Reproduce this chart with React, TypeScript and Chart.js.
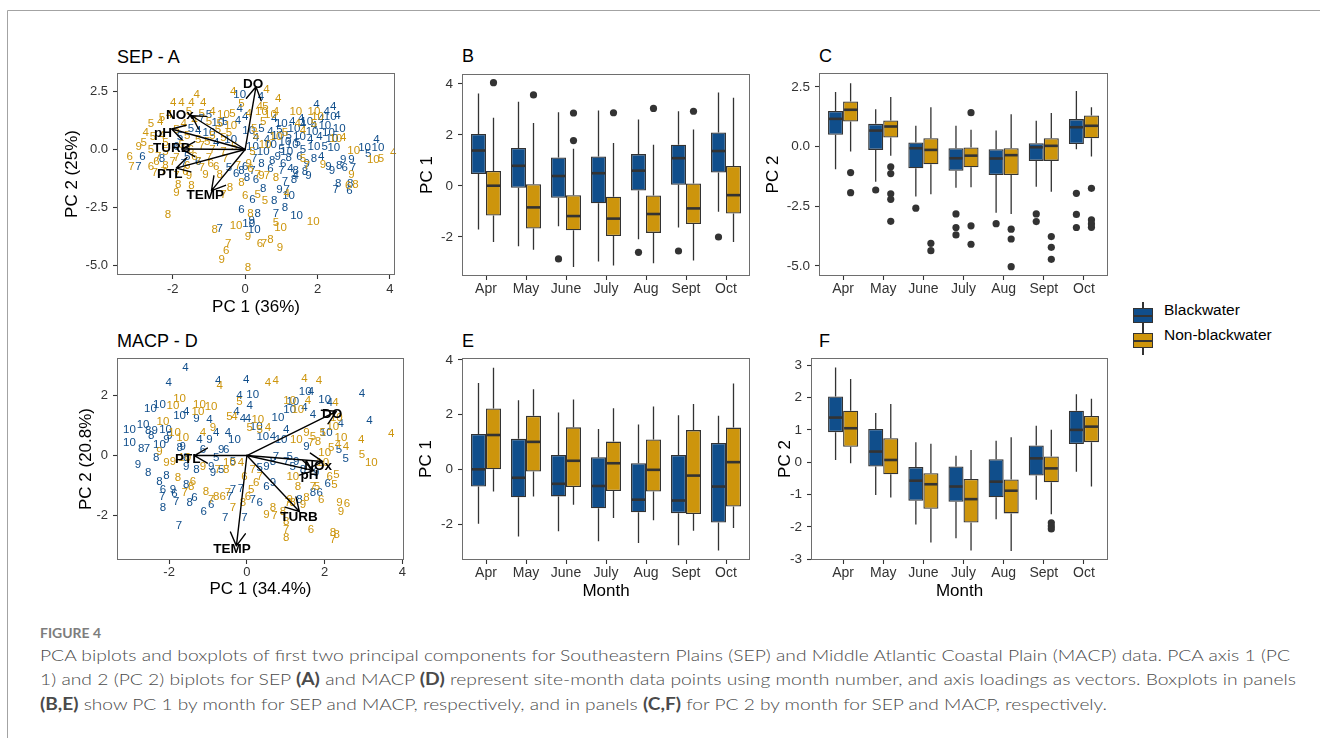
import React, { useEffect, useRef } from 'react';
import { Chart, registerables } from 'chart.js';

Chart.register(...registerables);

const FONT = '"Liberation Sans", Arial, Helvetica, sans-serif';
const BLUE = '#104E8B';
const GOLD = '#CD950C';
const INK = '#333333';

// ---------------- categories & ticks ----------------
const months = ['Apr', 'May', 'June', 'July', 'Aug', 'Sept', 'Oct'];
const monthPos = [1, 2, 3, 4, 5, 6, 7];
const groupNames = ['Blackwater', 'Non-blackwater'];

const sepXTicks = [-2, 0, 2, 4];
const sepXTickLabels = ['-2', '0', '2', '4'];
const sepYTicks = [-5, -2.5, 0, 2.5];
const sepYTickLabels = ['-5.0', '-2.5', '0.0', '2.5'];
const macpXTicks = [-2, 0, 2, 4];
const macpXTickLabels = ['-2', '0', '2', '4'];
const macpYTicks = [-2, 0, 2];
const macpYTickLabels = ['-2', '0', '2'];
const bYTicks = [-2, 0, 2, 4];
const bYTickLabels = ['-2', '0', '2', '4'];
const cYTicks = [-5, -2.5, 0, 2.5];
const cYTickLabels = ['-5.0', '-2.5', '0.0', '2.5'];
const eYTicks = [-2, 0, 2, 4];
const eYTickLabels = ['-2', '0', '2', '4'];
const fYTicks = [-3, -2, -1, 0, 1, 2, 3];
const fYTickLabels = ['-3', '-2', '-1', '0', '1', '2', '3'];

// ---------------- biplot A (SEP) ----------------
type Pt = [number, number, string];
const sepBlackPts: Pt[] = [
  [-0.15, 2.36, '10'], [0.44, 2.28, '4'], [-0.15, 1.75, '4'], [-1.0, 1.5, '5'], [-1.2, 1.3, '7'],
  [-0.75, 1.15, '10'], [-0.55, 1.2, '5'], [-0.2, 1.25, '4'], [0.0, 1.4, '4'], [0.45, 0.9, '5'],
  [1.0, 1.1, '10'], [1.3, 1.2, '4'], [1.55, 1.3, '4'], [1.7, 1.2, '10'], [1.97, 1.93, '4'],
  [2.43, 1.85, '4'], [2.25, 1.64, '4'], [2.35, 1.4, '10'], [2.55, 1.45, '4'], [2.2, 1.0, '10'],
  [1.9, 1.0, '4'], [2.1, 1.3, '4'], [0.7, 0.75, '4'], [0.9, 0.6, '10'], [1.2, 0.6, '5'],
  [1.5, 0.55, '10'], [1.8, 0.4, '4'], [2.4, 0.45, '10'], [2.45, 0.05, '10'], [2.2, 0.1, '5'],
  [3.63, 0.42, '4'], [3.67, 0.06, '10'], [3.3, 0.05, '10'], [3.4, -0.2, '5'], [0.7, 0.2, '10'],
  [1.0, 0.0, '5'], [1.3, 0.2, '10'], [1.6, 0.0, '5'], [1.9, 0.1, '10'], [0.2, 0.1, '10'],
  [0.5, -0.1, '10'], [0.9, -0.3, '9'], [1.2, -0.35, '8'], [1.5, -0.3, '6'], [1.9, -0.4, '8'],
  [2.1, -0.3, '4'], [-1.8, 0.55, '5'], [-1.5, 0.9, '5'], [-1.3, 0.8, '4'], [-1.0, 0.7, '10'],
  [-0.8, 0.3, '4'], [-0.4, 0.4, '10'], [-1.9, 0.1, '6'], [-1.6, -0.3, '5'], [-1.7, -0.6, '7'],
  [-1.3, -0.55, '6'], [-2.84, -0.33, '6'], [-2.95, -0.73, '7'], [-2.3, -0.4, '8'], [2.71, -0.45, '9'],
  [2.94, -0.45, '9'], [2.75, -0.8, '6'], [2.98, -0.8, '7'], [2.6, -0.7, '8'], [2.3, -0.75, '9'],
  [2.57, -1.48, '8'], [2.9, -1.48, '8'], [2.5, -1.72, '7'], [2.88, -1.8, '6'], [2.4, -0.9, '9'],
  [0.0, -0.75, '6'], [0.2, -0.9, '7'], [0.45, -0.6, '8'], [0.7, -0.85, '6'], [1.0, -0.9, '7'],
  [1.25, -0.85, '4'], [1.4, -0.9, '8'], [1.65, -0.95, '8'], [1.75, -1.15, '9'], [1.4, -1.15, '4'],
  [1.35, -1.3, '8'], [1.1, -1.4, '7'], [-0.45, -0.8, '5'], [-0.25, -1.05, '6'], [-0.1, -0.9, '8'],
  [0.05, -1.2, '8'], [0.3, -1.3, '6'], [0.95, -1.75, '9'], [1.15, -1.75, '7'], [1.2, -2.0, '10'],
  [0.2, -2.15, '6'], [0.5, -1.7, '8'], [0.8, -2.2, '8'], [1.1, -2.5, '8'], [-0.1, -2.6, '6'],
  [0.35, -2.77, '8'], [0.85, -2.75, '7'], [1.42, -2.84, '10'], [0.1, -3.2, '10'], [0.18, -3.05, '9'],
  [-0.7, -3.43, '7'], [0.25, -3.45, '10'], [0.6, 0.4, '4'], [0.8, 1.3, '4'], [1.1, 0.35, '10'],
  [1.35, 0.9, '10'], [1.6, 1.05, '4'], [1.85, 0.75, '10'], [2.05, 0.55, '4'], [2.3, 0.7, '10'],
  [1.15, -0.1, '10'], [1.45, 0.3, '5'], [0.3, 0.5, '4'], [0.1, 0.8, '10'], [0.95, 0.85, '5'],
  [2.6, 0.9, '10'], [1.7, -0.6, '9'], [0.75, -0.5, '8'], [1.05, -0.6, '6'], [0.25, -0.4, '7'],
];
const sepNonPts: Pt[] = [
  [-0.33, 2.47, '4'], [0.59, 2.57, '4'], [-1.34, 2.36, '4'], [0.91, 2.17, '4'], [-1.99, 2.0, '4'],
  [-1.76, 2.0, '4'], [-1.48, 2.0, '4'], [-1.16, 2.0, '4'], [-0.1, 1.98, '5'], [0.56, 1.85, '5'],
  [0.4, 1.85, '4'], [-2.3, 1.35, '5'], [-2.1, 1.5, '4'], [-1.55, 1.6, '5'], [-1.2, 1.55, '5'],
  [-0.9, 1.6, '4'], [-0.6, 1.5, '10'], [-0.35, 1.55, '5'], [0.1, 1.55, '4'], [0.45, 1.6, '10'],
  [0.7, 1.5, '10'], [0.85, 1.6, '4'], [1.4, 1.6, '10'], [1.9, 1.6, '10'], [2.0, 1.4, '10'],
  [-2.6, 1.1, '5'], [-2.35, 1.2, '4'], [-1.0, 1.2, '5'], [-0.7, 1.1, '5'], [-0.4, 1.0, '10'],
  [0.25, 0.9, '5'], [0.5, 1.2, '5'], [1.45, 1.1, '4'], [1.6, 0.8, '4'], [1.9, 1.1, '5'],
  [-2.55, 0.56, '5'], [-2.75, 0.7, '4'], [-2.3, 0.6, '4'], [-1.6, 0.6, '5'], [-1.3, 0.4, '5'],
  [-0.9, 0.6, '5'], [-0.6, 0.5, '5'], [0.3, 0.6, '5'], [0.85, 0.55, '10'], [1.1, 0.7, '5'],
  [2.71, 0.49, '4'], [2.5, 0.45, '10'], [-2.94, 0.1, '9'], [-2.6, 0.0, '5'], [-2.2, -0.1, '5'],
  [-1.5, 0.0, '6'], [-1.2, 0.15, '7'], [-0.9, 0.0, '7'], [-0.6, -0.1, '7'], [-0.3, 0.1, '5'],
  [0.2, -0.1, '5'], [0.55, 0.2, '10'], [3.0, -0.05, '10'], [4.09, -0.13, '4'], [-3.19, -0.33, '6'],
  [-2.4, -0.3, '7'], [-1.9, -0.35, '7'], [-1.4, -0.3, '6'], [-1.0, -0.35, '7'], [-0.55, -0.4, '7'],
  [0.1, -0.6, '9'], [3.54, -0.45, '10'], [3.75, -0.42, '5'], [1.6, -0.4, '5'], [-3.14, -0.73, '7'],
  [-2.6, -0.75, '6'], [-2.2, -0.7, '8'], [-1.6, -0.7, '6'], [-1.2, -0.8, '7'], [-0.8, -0.75, '6'],
  [-0.2, -0.7, '7'], [0.15, -0.85, '6'], [1.7, -0.7, '7'], [2.15, -0.65, '9'], [-2.5, -1.0, '7'],
  [-1.9, -1.15, '7'], [-1.55, -1.15, '9'], [-1.1, -1.1, '9'], [-0.7, -1.1, '8'], [0.35, -1.1, '7'],
  [0.45, -1.15, '9'], [0.6, -1.15, '7'], [0.85, -1.2, '8'], [2.94, -1.09, '9'], [-1.85, -1.52, '8'],
  [-1.48, -1.55, '8'], [-0.42, -1.67, '8'], [-0.1, -1.45, '8'], [3.05, -1.5, '8'], [2.85, -1.55, '6'],
  [-1.9, -1.88, '9'], [-0.6, -1.95, '7'], [0.0, -2.0, '6'], [0.35, -1.95, '5'], [0.55, -2.2, '5'],
  [1.15, -1.9, '4'], [-2.13, -2.82, '8'], [0.15, -2.75, '8'], [0.85, -3.15, '5'], [-0.84, -3.46, '8'],
  [-0.25, -3.3, '10'], [0.98, -3.39, '10'], [1.88, -3.1, '10'], [-0.47, -4.04, '7'], [-0.52, -4.35, '6'],
  [-0.65, -4.73, '9'], [0.41, -4.07, '6'], [0.52, -4.07, '7'], [0.7, -3.89, '8'], [0.96, -4.25, '9'],
  [0.08, -3.75, '9'], [0.08, -5.09, '8'], [-2.2, 0.3, '5'], [-1.9, 0.85, '5'], [-1.7, 1.1, '4'],
  [-1.4, 1.25, '4'], [-2.45, -0.55, '6'], [-2.0, -0.55, '7'], [-1.75, 0.2, '5'], [-1.05, 0.35, '5'],
  [-0.75, 0.85, '5'], [-0.45, 0.7, '5'], [-2.8, 0.3, '5'], [-1.3, -0.55, '7'], [-0.95, -0.6, '6'],
  [-2.25, -0.95, '7'], [-1.65, -0.95, '6'],
];
const sepVars = ['DO', 'NOx', 'pH', 'TURB', 'PTL', 'TEMP'];
const sepTipX = [0.3, -1.48, -2.03, -1.75, -1.9, -0.93];
const sepTipY = [2.7, 1.45, 0.88, 0.02, -0.8, -1.77];
const sepLabX = [0.22, -1.8, -2.27, -2.03, -2.08, -1.1];
const sepLabY = [2.79, 1.45, 0.7, 0.03, -1.06, -1.95];

// ---------------- biplot D (MACP) ----------------
const macpBlackPts: Pt[] = [
  [-1.58, 2.93, '4'], [-2.01, 2.43, '4'], [-0.74, 2.49, '4'], [-0.02, 2.51, '4'], [-0.19, 2.0, '4'],
  [0.15, 2.02, '10'], [0.07, 1.65, '4'], [-2.48, 1.55, '10'], [-2.25, 1.67, '10'], [-1.56, 1.44, '4'],
  [-1.73, 1.32, '10'], [-1.3, 1.21, '9'], [-0.96, 1.18, '4'], [-0.27, 1.46, '4'], [0.03, 1.21, '4'],
  [-3.02, 0.87, '10'], [-2.67, 1.02, '10'], [-2.54, 0.83, '8'], [-2.37, 0.83, '9'], [-2.09, 0.85, '10'],
  [-1.99, 0.65, '9'], [-3.02, 0.41, '10'], [-2.72, 0.21, '8'], [-2.57, 0.21, '7'], [-2.25, 0.35, '10'],
  [-2.07, 0.52, '9'], [-1.73, 0.24, '8'], [-2.33, -0.09, '8'], [-1.56, -0.09, '8'], [-2.8, -0.31, '9'],
  [-2.54, -0.56, '8'], [-2.25, -0.86, '8'], [-2.07, -0.66, '8'], [-2.16, -1.14, '6'], [-1.9, -1.14, '9'],
  [-1.56, -0.97, '8'], [-2.18, -1.36, '7'], [-1.86, -1.27, '6'], [-1.82, -1.55, '7'], [-2.16, -1.75, '8'],
  [-1.47, -1.58, '8'], [-1.35, -1.42, '6'], [-1.11, -1.86, '6'], [-0.92, -1.64, '6'], [-1.75, -2.34, '7'],
  [-0.56, -2.08, '7'], [-0.45, -1.36, '7'], [-0.36, -1.14, '7'], [-0.06, -2.08, '7'], [-0.15, -1.09, '7'],
  [0.15, -1.47, '7'], [0.33, -1.58, '6'], [0.5, -1.03, '6'], [0.67, -0.92, '9'], [0.5, -0.37, '9'],
  [0.33, -0.42, '5'], [0.75, -0.03, '7'], [1.1, -0.03, '5'], [1.18, -0.37, '5'], [1.01, -0.2, '7'],
  [1.35, -1.47, '8'], [1.7, -1.25, '8'], [1.87, -1.25, '6'], [2.08, -0.94, '6'], [2.54, -0.12, '5'],
  [2.37, 0.19, '5'], [3.15, 1.16, '4'], [2.96, 2.04, '4'], [2.41, 1.04, '4'], [2.04, 0.74, '10'],
  [2.13, 1.74, '4'], [2.0, 1.85, '10'], [1.5, 2.13, '10'], [1.65, 2.13, '4'], [1.1, 1.52, '10'],
  [1.18, 1.79, '10'], [1.48, 1.57, '4'], [1.7, 1.35, '4'], [0.8, 1.24, '10'], [0.88, 0.52, '10'],
  [0.67, 0.63, '4'], [0.41, 0.63, '10'], [1.01, 0.85, '4'], [1.53, 0.3, '9'], [-0.79, 0.76, '4'],
  [-0.49, 0.74, '4'], [-0.96, 0.52, '9'], [-1.22, 0.52, '4'], [-0.32, 0.52, '10'], [-0.66, 0.19, '9'],
  [-0.79, -0.09, '5'], [-0.92, -0.37, '9'], [-1.56, -0.37, '9'], [-1.3, -0.48, '8'], [-0.87, -0.59, '9'],
  [-0.66, -0.48, '5'], [-0.36, -0.2, '5'], [-1.65, 0.3, '9'], [-2.46, 0.65, '8'], [-1.13, 0.19, '6'],
  [-0.53, 0.19, '6'], [0.67, -0.2, '8'], [1.27, -0.2, '9'], [1.44, -0.48, '8'], [1.78, -0.59, '9'],
  [0.24, 0.96, '10'], [-0.1, 1.21, '4'],
];
const macpNonPts: Pt[] = [
  [0.54, 2.43, '4'], [0.74, 2.49, '4'], [-0.7, 2.31, '4'], [1.48, 2.54, '4'], [1.85, 2.49, '4'],
  [2.28, 1.76, '4'], [3.71, 0.71, '4'], [2.94, 0.52, '4'], [2.55, 0.3, '4'], [2.34, 0.35, '4'],
  [2.42, 0.58, '10'], [2.96, 0.02, '5'], [3.2, -0.23, '10'], [2.3, 1.24, '10'], [2.21, 0.96, '10'],
  [1.57, 1.83, '4'], [1.1, 1.83, '10'], [1.31, 1.52, '10'], [-0.19, 1.79, '5'], [-0.45, 1.3, '5'],
  [-0.32, 1.3, '4'], [0.28, 1.18, '10'], [0.07, 0.91, '5'], [0.54, 0.91, '4'], [0.33, 0.85, '5'],
  [-1.73, 1.9, '10'], [-1.9, 1.65, '10'], [-1.22, 1.68, '10'], [-0.92, 1.61, '10'], [-1.26, 1.46, '10'],
  [-2.16, 1.13, '10'], [-1.86, 0.74, '10'], [-1.65, 0.58, '10'], [-0.87, 0.91, '9'], [-1.13, 0.74, '4'],
  [-2.25, 0.13, '9'], [-2.07, -0.25, '9'], [-1.6, -0.09, '10'], [-1.9, -0.2, '9'], [-1.13, -0.37, '9'],
  [-0.75, -0.48, '7'], [-0.53, -0.48, '8'], [-0.45, -0.25, '10'], [-0.15, -0.25, '4'], [0.15, -0.48, '7'],
  [0.33, -0.7, '7'], [-0.49, -1.25, '7'], [-0.62, -1.36, '6'], [-0.92, -1.47, '7'], [-0.36, -1.75, '7'],
  [-1.05, -1.2, '8'], [-0.79, -1.36, '8'], [-1.77, -0.75, '8'], [-1.43, -1.03, '8'], [-1.6, -1.25, '7'],
  [-1.39, -0.86, '6'], [-0.1, -1.58, '8'], [0.03, -1.36, '6'], [0.11, -1.14, '5'], [-0.06, -0.7, '6'],
  [0.24, -0.92, '6'], [0.67, -1.75, '8'], [0.71, -2.0, '7'], [0.5, -1.97, '9'], [0.93, -1.86, '8'],
  [1.05, -1.58, '7'], [1.18, -1.58, '8'], [1.01, -2.19, '8'], [1.01, -2.47, '7'], [1.01, -2.75, '8'],
  [1.65, -2.47, '6'], [2.21, -2.58, '8'], [2.31, -2.64, '8'], [2.21, -2.8, '7'], [2.38, -1.58, '9'],
  [2.57, -1.61, '6'], [2.42, -1.86, '9'], [1.91, -1.47, '6'], [1.7, -1.03, '7'], [1.8, -1.03, '5'],
  [1.53, -1.42, '8'], [1.44, -1.64, '9'], [1.18, -0.7, '10'], [1.31, -1.03, '8'], [1.1, -1.47, '9'],
  [2.13, -0.7, '6'], [2.3, -0.64, '5'], [2.25, -0.97, '5'], [1.95, -0.25, '10'], [2.0, 0.08, '10'],
  [2.17, 0.24, '5'], [1.83, 0.47, '8'], [1.65, 0.41, '7'], [1.53, 0.74, '9'], [1.7, 0.63, '5'],
  [1.27, 0.52, '10'], [1.95, 0.74, '5'],
];
const macpVars = ['DO', 'NOx', 'pH', 'TURB', 'PTL', 'TEMP'];
const macpTipX = [2.3, 1.95, 1.72, 1.35, -1.35, -0.27];
const macpTipY = [1.47, -0.2, -0.5, -1.86, 0.0, -3.0];
const macpLabX = [2.19, 1.83, 1.61, 1.34, -1.52, -0.38];
const macpLabY = [1.37, -0.37, -0.66, -2.05, -0.11, -3.13];

// ---------------- boxplots: [lower whisker, Q1, median, Q3, upper whisker] ----------------
const sepPC1Black = [
  [-1.71, 0.47, 1.39, 2.04, 3.63], [-2.36, -0.07, 0.79, 1.49, 3.3], [-1.58, -0.46, 0.39, 1.12, 2.89],
  [-2.96, -0.68, 0.5, 1.16, 2.96], [-2.09, -0.18, 0.6, 1.25, 2.61], [-1.63, 0.05, 1.09, 1.62, 2.93],
  [-1.01, 0.53, 1.37, 2.1, 3.66],
];
const sepPC1BlackOut = [[], [], [-2.86], [], [-2.6], [-2.55], [-2.0]];
const sepPC1Non = [
  [-2.2, -1.16, 0.01, 0.59, 2.67], [-2.5, -1.67, -0.84, 0.07, 2.47], [-3.18, -1.74, -1.18, -0.36, 1.46],
  [-3.12, -1.96, -1.28, -0.42, 1.68], [-3.03, -1.84, -1.1, -0.37, 1.62], [-2.92, -1.49, -0.88, 0.1, 2.21],
  [-2.2, -1.08, -0.36, 0.78, 3.46],
];
const sepPC1NonOut = [[4.05], [3.57], [2.86, 1.78], [2.87], [3.04], [2.93], []];

const sepPC2Black = [
  [-0.95, 0.49, 1.16, 1.49, 2.28], [-1.47, -0.14, 0.67, 0.95, 1.56], [-2.09, -0.91, -0.07, 0.17, 0.87],
  [-1.72, -1.01, -0.49, -0.07, 0.87], [-2.77, -1.19, -0.5, -0.11, 0.67], [-1.68, -0.6, -0.03, 0.14, 1.08],
  [-0.11, 0.11, 0.81, 1.15, 2.33],
];
const sepPC2BlackOut = [[], [-1.82], [-2.58], [-2.82, -3.39, -3.7], [-3.23], [-2.82, -3.14], [-1.96, -2.84, -3.39]];
const sepPC2Non = [
  [-0.21, 1.05, 1.54, 1.89, 2.65], [-0.39, 0.38, 0.84, 1.09, 2.07], [-2.0, -0.74, -0.14, 0.35, 1.65],
  [-1.7, -0.87, -0.38, -0.04, 0.7], [-2.82, -1.19, -0.36, -0.07, 1.35], [-1.89, -0.6, 0.03, 0.35, 1.4],
  [-0.42, 0.35, 0.87, 1.3, 1.65],
];
const sepPC2NonOut = [
  [-1.09, -1.93], [-0.85, -1.13, -1.98, -2.21, -3.13], [-4.05, -4.36], [1.42, -3.32, -4.09],
  [-3.46, -3.87, -5.03], [-3.77, -4.22, -4.72], [-1.75, -3.07, -3.24, -3.38],
];

const macpPC1Black = [
  [-1.98, -0.62, 0.01, 1.3, 3.16], [-2.44, -1.01, -0.3, 1.12, 2.53], [-2.25, -0.98, -0.52, 0.53, 2.08],
  [-2.62, -1.41, -0.6, 0.45, 1.48], [-2.68, -1.56, -1.1, 0.23, 1.64], [-2.76, -1.59, -1.13, 0.53, 1.98],
  [-2.95, -1.93, -0.62, 0.97, 1.96],
];
const macpPC1BlackOut = [[], [], [], [], [], [], []];
const macpPC1Non = [
  [-0.8, 0.01, 1.26, 2.23, 3.71], [-0.98, -0.07, 1.01, 1.96, 2.93], [-1.28, -0.64, 0.32, 1.54, 2.56],
  [-1.77, -0.78, 0.23, 1.02, 2.24], [-1.85, -0.8, -0.01, 1.1, 2.3], [-2.23, -1.62, -0.22, 1.44, 2.39],
  [-2.13, -1.35, 0.27, 1.53, 3.14],
];
const macpPC1NonOut = [[], [], [], [], [], [], []];

const macpPC2Black = [
  [0.07, 0.93, 1.38, 2.03, 2.93], [-1.01, -0.13, 0.33, 1.03, 1.52], [-1.92, -1.19, -0.57, -0.15, 0.62],
  [-2.35, -1.22, -0.75, -0.13, 0.2], [-1.76, -1.08, -0.6, 0.09, 0.66], [-1.16, -0.41, 0.12, 0.52, 1.13],
  [-0.29, 0.56, 1.0, 1.59, 2.1],
];
const macpPC2BlackOut = [[], [], [], [], [], [], []];
const macpPC2Non = [
  [-0.03, 0.48, 1.05, 1.59, 2.57], [-1.09, -0.37, 0.07, 0.74, 1.8], [-2.48, -1.44, -0.68, -0.34, 0.57],
  [-2.73, -1.86, -1.14, -0.52, 0.38], [-2.74, -1.58, -0.88, -0.53, 0.77], [-1.61, -0.62, -0.19, 0.18, 1.0],
  [-0.75, 0.62, 1.1, 1.43, 1.96],
];
const macpPC2NonOut = [[], [], [], [], [], [-1.87, -1.97, -2.06], []];

// ---------------- helpers ----------------
function canvasBox(L: number, T: number, R: number, B: number, yw: number, xh: number) {
  const pad = { left: 10, top: 22, right: 12, bottom: 6 };
  const x = L - yw - pad.left;
  const y = T - pad.top;
  const w = R + pad.right - x;
  const h = B + xh + pad.bottom - y;
  return { x, y, w, h, pad };
}

const borderPlugin = {
  id: 'panelBorder',
  afterDraw(chart: any) {
    const { ctx, chartArea: a } = chart;
    ctx.save();
    ctx.strokeStyle = '#6e6e6e';
    ctx.lineWidth = 1;
    ctx.strokeRect(a.left + 0.5, a.top + 0.5, a.right - a.left - 1, a.bottom - a.top - 1);
    ctx.restore();
  },
};

function axisOpts(o: any) {
  return {
    type: 'linear',
    min: o.min,
    max: o.max,
    offset: false,
    afterBuildTicks: (s: any) => {
      s.ticks = o.ticks.map((v: number) => ({ value: v }));
    },
    afterFit: (s: any) => {
      if (o.width !== undefined) s.width = o.width;
      if (o.height !== undefined) s.height = o.height;
    },
    ticks: {
      autoSkip: false,
      maxRotation: 0,
      minRotation: 0,
      padding: o.pad,
      color: '#333',
      font: { family: FONT, size: o.size },
      callback: (_v: any, i: number) => o.labels[i],
    },
    grid: { display: true, offset: false, drawOnChartArea: false, drawTicks: true, tickLength: 4, color: INK, tickColor: INK, tickWidth: 1.1 },
    border: { display: false },
    title: {
      display: !!o.title,
      text: o.title || '',
      color: '#000',
      padding: 0,
      font: { family: FONT, size: 17 },
    },
  };
}

function makeBiplot(p: any) {
  const textPlugin = {
    id: 'textPoints',
    afterDatasetsDraw(chart: any) {
      const ctx = chart.ctx;
      ctx.save();
      ctx.font = `11.5px ${FONT}`;
      ctx.textAlign = 'center';
      ctx.textBaseline = 'middle';
      chart.data.datasets.forEach((ds: any, i: number) => {
        const meta = chart.getDatasetMeta(i);
        ctx.fillStyle = ds.textColor;
        meta.data.forEach((el: any, j: number) => ctx.fillText(ds.data[j].t, el.x, el.y));
      });
      ctx.restore();
    },
  };
  const loadPlugin = {
    id: 'loadings',
    afterDatasetsDraw(chart: any) {
      const { ctx } = chart;
      const xs = chart.scales.x;
      const ys = chart.scales.y;
      const ox = xs.getPixelForValue(0);
      const oy = ys.getPixelForValue(0);
      ctx.save();
      ctx.strokeStyle = '#000';
      ctx.lineWidth = 1.4;
      ctx.lineCap = 'round';
      ctx.lineJoin = 'round';
      p.vars.forEach((_v: string, i: number) => {
        const tx = xs.getPixelForValue(p.tipX[i]);
        const ty = ys.getPixelForValue(p.tipY[i]);
        const ang = Math.atan2(ty - oy, tx - ox);
        const len = 15;
        const a = Math.PI / 6;
        ctx.beginPath();
        ctx.moveTo(ox, oy);
        ctx.lineTo(tx, ty);
        ctx.moveTo(tx - len * Math.cos(ang - a), ty - len * Math.sin(ang - a));
        ctx.lineTo(tx, ty);
        ctx.lineTo(tx - len * Math.cos(ang + a), ty - len * Math.sin(ang + a));
        ctx.stroke();
      });
      ctx.font = `bold 13.5px ${FONT}`;
      ctx.fillStyle = '#000';
      ctx.textAlign = 'center';
      ctx.textBaseline = 'middle';
      p.vars.forEach((v: string, i: number) => {
        ctx.fillText(v, xs.getPixelForValue(p.labX[i]), ys.getPixelForValue(p.labY[i]));
      });
      ctx.restore();
    },
  };
  const box = canvasBox(p.L, p.T, p.R, p.B, p.yw, p.xh);
  const config = () => ({
    type: 'scatter',
    data: {
      datasets: [
        { label: groupNames[0], textColor: BLUE, data: p.black.map(([x, y, t]: Pt) => ({ x, y, t })), pointRadius: 0 },
        { label: groupNames[1], textColor: GOLD, data: p.non.map(([x, y, t]: Pt) => ({ x, y, t })), pointRadius: 0 },
      ],
    },
    options: {
      animation: false,
      responsive: false,
      devicePixelRatio: 1,
      events: [],
      layout: { padding: box.pad },
      plugins: { legend: { display: false }, tooltip: { enabled: false }, title: { display: false } },
      scales: {
        x: axisOpts({ min: p.xMin, max: p.xMax, ticks: p.xTicks, labels: p.xTickLabels, size: 13, pad: p.xPad, height: p.xh, title: p.xTitle }),
        y: axisOpts({ min: p.yMin, max: p.yMax, ticks: p.yTicks, labels: p.yTickLabels, size: 13, pad: 5, width: p.yw, title: p.yTitle }),
      },
    },
    plugins: [textPlugin, loadPlugin, borderPlugin],
  });
  return { box, config };
}

function makeBoxplot(p: any) {
  const statsList = [p.black, p.non];
  const outList = [p.blackOut, p.nonOut];
  const boxPlugin = {
    id: 'boxExtras',
    beforeDatasetsDraw(chart: any) {
      const { ctx } = chart;
      const ys = chart.scales.y;
      ctx.save();
      ctx.strokeStyle = INK;
      ctx.lineWidth = 1.3;
      statsList.forEach((stats: number[][], d: number) => {
        const meta = chart.getDatasetMeta(d);
        meta.data.forEach((el: any, j: number) => {
          const s = stats[j];
          ctx.beginPath();
          ctx.moveTo(el.x, ys.getPixelForValue(s[0]));
          ctx.lineTo(el.x, ys.getPixelForValue(s[1]));
          ctx.moveTo(el.x, ys.getPixelForValue(s[3]));
          ctx.lineTo(el.x, ys.getPixelForValue(s[4]));
          ctx.stroke();
        });
      });
      ctx.restore();
    },
    afterDatasetsDraw(chart: any) {
      const { ctx } = chart;
      const ys = chart.scales.y;
      ctx.save();
      ctx.strokeStyle = INK;
      ctx.fillStyle = INK;
      statsList.forEach((stats: number[][], d: number) => {
        const meta = chart.getDatasetMeta(d);
        meta.data.forEach((el: any, j: number) => {
          const s = stats[j];
          const w = el.width;
          const my = ys.getPixelForValue(s[2]);
          ctx.lineWidth = 2.6;
          ctx.beginPath();
          ctx.moveTo(el.x - w / 2 + 1, my);
          ctx.lineTo(el.x + w / 2 - 1, my);
          ctx.stroke();
          outList[d][j].forEach((v: number) => {
            ctx.beginPath();
            ctx.arc(el.x, ys.getPixelForValue(v), 3.6, 0, Math.PI * 2);
            ctx.fill();
          });
        });
      });
      ctx.restore();
    },
  };
  const box = canvasBox(p.L, p.T, p.R, p.B, p.yw, p.xh);
  const barDs = (stats: number[][], label: string, color: string) => ({
    type: 'bar',
    label,
    data: monthPos.map((m, i) => ({ x: m, y: [stats[i][1], stats[i][3]] })),
    backgroundColor: color,
    borderColor: INK,
    borderWidth: 1.3,
    borderSkipped: false,
    categoryPercentage: 0.75,
    barPercentage: 1,
    inflateAmount: 0,
  });
  const config = () => ({
    type: 'bar',
    data: { datasets: [barDs(p.black, groupNames[0], BLUE), barDs(p.non, groupNames[1], GOLD)] },
    options: {
      animation: false,
      responsive: false,
      devicePixelRatio: 1,
      events: [],
      layout: { padding: box.pad },
      plugins: { legend: { display: false }, tooltip: { enabled: false }, title: { display: false } },
      scales: {
        x: { ...axisOpts({ min: p.xMin, max: p.xMax, ticks: monthPos, labels: months, size: 14, pad: 1, height: p.xh, title: p.xTitle }) },
        y: { ...axisOpts({ min: p.yMin, max: p.yMax, ticks: p.yTicks, labels: p.yTickLabels, size: 13.5, pad: 5, width: p.yw, title: p.yTitle }), beginAtZero: false },
      },
    },
    plugins: [boxPlugin, borderPlugin],
  });
  return { box, config };
}

// ---------------- panels ----------------
const panelA = makeBiplot({
  L: 117, T: 73, R: 395, B: 275, yw: 55, xh: 43, xPad: 2.5,
  xMin: -3.54, xMax: 4.14, yMin: -5.4, yMax: 3.29,
  xTicks: sepXTicks, xTickLabels: sepXTickLabels, yTicks: sepYTicks, yTickLabels: sepYTickLabels,
  xTitle: 'PC 1 (36%)', yTitle: 'PC 2 (25%)',
  black: sepBlackPts, non: sepNonPts,
  vars: sepVars, tipX: sepTipX, tipY: sepTipY, labX: sepLabX, labY: sepLabY,
});
const panelD = makeBiplot({
  L: 117, T: 358, R: 404, B: 560, yw: 41, xh: 40, xPad: 0.5,
  xMin: -3.34, xMax: 4.04, yMin: -3.47, yMax: 3.24,
  xTicks: macpXTicks, xTickLabels: macpXTickLabels, yTicks: macpYTicks, yTickLabels: macpYTickLabels,
  xTitle: 'PC 1 (34.4%)', yTitle: 'PC 2 (20.8%)',
  black: macpBlackPts, non: macpNonPts,
  vars: macpVars, tipX: macpTipX, tipY: macpTipY, labX: macpLabX, labY: macpLabY,
});
const panelB = makeBoxplot({
  L: 462, T: 74, R: 750, B: 276, yw: 45, xh: 30, xMin: 0.4, xMax: 7.6, yMin: -3.53, yMax: 4.39,
  yTicks: bYTicks, yTickLabels: bYTickLabels, yTitle: 'PC 1',
  black: sepPC1Black, non: sepPC1Non, blackOut: sepPC1BlackOut, nonOut: sepPC1NonOut,
});
const panelC = makeBoxplot({
  L: 819, T: 73, R: 1108, B: 276, yw: 56, xh: 30, xMin: 0.4, xMax: 7.6, yMin: -5.42, yMax: 3.08,
  yTicks: cYTicks, yTickLabels: cYTickLabels, yTitle: 'PC 2',
  black: sepPC2Black, non: sepPC2Non, blackOut: sepPC2BlackOut, nonOut: sepPC2NonOut,
});
const panelE = makeBoxplot({
  L: 462, T: 358, R: 750, B: 560, yw: 46, xh: 42, xMin: 0.4, xMax: 7.6, yMin: -3.3, yMax: 4.07,
  yTicks: eYTicks, yTickLabels: eYTickLabels, yTitle: 'PC 1', xTitle: 'Month',
  black: macpPC1Black, non: macpPC1Non, blackOut: macpPC1BlackOut, nonOut: macpPC1NonOut,
});
const panelF = makeBoxplot({
  L: 811, T: 358, R: 1108, B: 560, yw: 36, xh: 42, xMin: 0.2, xMax: 7.6, yMin: -3.02, yMax: 3.22,
  yTicks: fYTicks, yTickLabels: fYTickLabels, yTitle: 'PC 2', xTitle: 'Month',
  black: macpPC2Black, non: macpPC2Non, blackOut: macpPC2BlackOut, nonOut: macpPC2NonOut,
});

function ChartCanvas({ panel }: { panel: any }) {
  const ref = useRef<HTMLCanvasElement>(null);
  useEffect(() => {
    const chart = new Chart(ref.current as HTMLCanvasElement, panel.config() as any);
    return () => chart.destroy();
  }, [panel]);
  const b = panel.box;
  return (
    <canvas
      ref={ref}
      width={b.w}
      height={b.h}
      style={{ position: 'absolute', left: b.x, top: b.y, width: b.w, height: b.h }}
    />
  );
}

function LegendKey({ top, color }: { top: number; color: string }) {
  return (
    <>
      <div style={{ position: 'absolute', left: 1142.4, top: top - 6.5, width: 1.2, height: 28, background: INK }} />
      <div
        style={{
          position: 'absolute', left: 1133, top, width: 20, height: 15, boxSizing: 'border-box',
          background: color, border: `1.3px solid ${INK}`,
        }}
      />
      <div style={{ position: 'absolute', left: 1134, top: top + 6.5, width: 18, height: 2, background: INK }} />
    </>
  );
}

const CAP = 'Lato, "Open Sans", "Noto Sans", sans-serif';

export default function App() {
  return (
    <div style={{ position: 'absolute', left: 0, top: 0, width: 1320, height: 738, background: '#fff', overflow: 'hidden' }}>
      <svg width={1320} height={738} style={{ position: 'absolute', left: 0, top: 0 }}>
        <line x1={7.5} y1={10.5} x2={1320} y2={10.5} stroke="#a3a3a3" strokeWidth={1} />
        <line x1={7.5} y1={10.5} x2={7.5} y2={738} stroke="#a3a3a3" strokeWidth={1} />
        <g fontFamily={FONT} fill="#000" fontSize={18}>
          <text x={117} y={62.5}>SEP - A</text>
          <text x={462} y={62}>B</text>
          <text x={819} y={62}>C</text>
          <text x={117} y={347}>MACP - D</text>
          <text x={462} y={347}>E</text>
          <text x={819} y={347}>F</text>
        </g>
        <g fontFamily={FONT} fill="#000" fontSize={15.5}>
          <text x={1164} y={315}>Blackwater</text>
          <text x={1164} y={340}>Non-blackwater</text>
        </g>
        <text x={40} y={638} fontFamily={CAP} fontWeight={700} fontSize={12.5} fill="#7d7d7d" textLength={61} lengthAdjust="spacingAndGlyphs">FIGURE 4</text>
        <g fontFamily={CAP} fontSize={16.5} fontWeight={300} fill="#4a4a4a">
          <text x={40} y={661} textLength={1250} lengthAdjust="spacingAndGlyphs">
            PCA biplots and boxplots of first two principal components for Southeastern Plains (SEP) and Middle Atlantic Coastal Plain (MACP) data. PCA axis 1 (PC
          </text>
          <text x={40} y={685} textLength={1256} lengthAdjust="spacingAndGlyphs">
            1) and 2 (PC 2) biplots for SEP <tspan fontWeight={700}>(A)</tspan> and MACP <tspan fontWeight={700}>(D)</tspan> represent site-month data points using month number, and axis loadings as vectors. Boxplots in panels
          </text>
          <text x={40} y={710} textLength={1067} lengthAdjust="spacingAndGlyphs">
            <tspan fontWeight={700}>(B,E)</tspan> show PC 1 by month for SEP and MACP, respectively, and in panels <tspan fontWeight={700}>(C,F)</tspan> for PC 2 by month for SEP and MACP, respectively.
          </text>
        </g>
      </svg>
      <LegendKey top={308} color={BLUE} />
      <LegendKey top={333} color={GOLD} />
      <ChartCanvas panel={panelA} />
      <ChartCanvas panel={panelB} />
      <ChartCanvas panel={panelC} />
      <ChartCanvas panel={panelD} />
      <ChartCanvas panel={panelE} />
      <ChartCanvas panel={panelF} />
    </div>
  );
}
